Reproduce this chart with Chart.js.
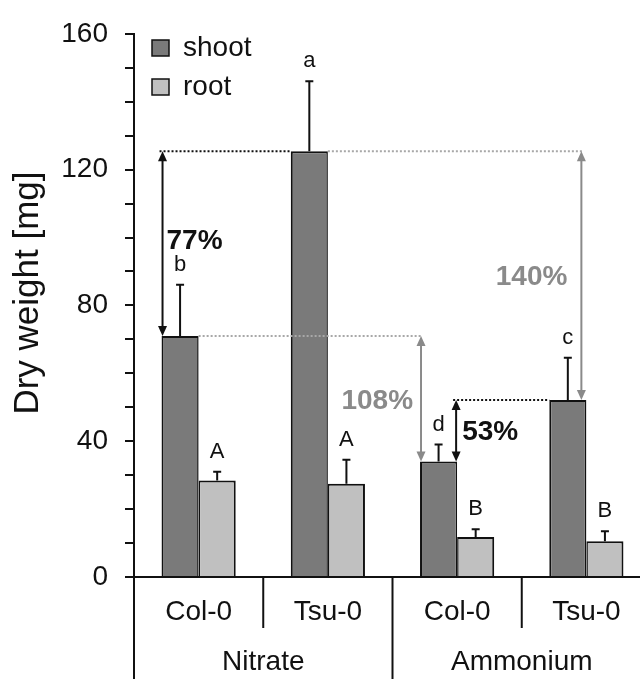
<!DOCTYPE html>
<html>
<head>
<meta charset="utf-8">
<script src="https://cdn.jsdelivr.net/npm/chart.js@4"></script>
<style>
html,body{margin:0;padding:0;background:#fff;overflow:hidden;}
#wrap{width:640px;height:679px;overflow:hidden;}
</style>
</head>
<body>
<div id="wrap"><canvas id="c" width="651" height="679"></canvas></div>
<script>
// ---- data ----
const categories = ['Col-0', 'Tsu-0', 'Col-0', 'Tsu-0'];
const groups = ['Nitrate', 'Ammonium'];
const shoot = [71.0, 125.4, 34.0, 52.1];
const shootErr = [15.1, 20.6, 5.0, 12.5];
const root = [28.4, 27.5, 11.8, 10.5];
const rootErr = [2.6, 7.0, 2.3, 3.0];
const shootLetters = ['b', 'a', 'd', 'c'];
const rootLetters = ['A', 'A', 'B', 'B'];
const yTicks = [0, 40, 80, 120, 160];
const seriesNames = ['shoot', 'root'];
const pctLabels = ['77%', '108%', '53%', '140%'];
const yTitle = 'Dry weight [mg]';

const FONT = '"Liberation Sans", Arial, Helvetica, sans-serif';
const SHOOT_COL = '#7a7a7a';
const ROOT_COL = '#c0c0c0';
const INK = '#111111';
const GRAY = '#8a8a8a';
const GRAY_DOT = '#a8a8a8';

function arrow(ctx, x, y1, y2, color) {
  const hl = 10, hw = 4.5;
  ctx.save();
  ctx.strokeStyle = color; ctx.fillStyle = color; ctx.lineWidth = 2; ctx.setLineDash([]);
  const top = Math.min(y1, y2), bot = Math.max(y1, y2);
  ctx.beginPath(); ctx.moveTo(x, top + hl - 1); ctx.lineTo(x, bot - hl + 1); ctx.stroke();
  ctx.beginPath(); ctx.moveTo(x, top); ctx.lineTo(x - hw, top + hl); ctx.lineTo(x + hw, top + hl); ctx.closePath(); ctx.fill();
  ctx.beginPath(); ctx.moveTo(x, bot); ctx.lineTo(x - hw, bot - hl); ctx.lineTo(x + hw, bot - hl); ctx.closePath(); ctx.fill();
  ctx.restore();
}
function dotted(ctx, x1, x2, y, color) {
  ctx.save();
  ctx.strokeStyle = color; ctx.lineWidth = 2; ctx.setLineDash([2, 2]);
  ctx.beginPath(); ctx.moveTo(x1, y); ctx.lineTo(x2, y); ctx.stroke();
  ctx.restore();
}
function vline(ctx, x, y1, y2) {
  ctx.save(); ctx.strokeStyle = INK; ctx.lineWidth = 2; ctx.setLineDash([]);
  ctx.beginPath(); ctx.moveTo(x, y1); ctx.lineTo(x, y2); ctx.stroke(); ctx.restore();
}

const extras = {
  id: 'extras',
  afterDatasetsDraw(chart) {
    const ctx = chart.ctx;
    const ys = chart.scales.y;
    const mS = chart.getDatasetMeta(0).data;
    const mR = chart.getDatasetMeta(1).data;
    const half = b => b.width / 2;

    // error bars + letters
    ctx.save();
    ctx.strokeStyle = INK; ctx.lineWidth = 2; ctx.fillStyle = INK;
    ctx.font = '22px ' + FONT; ctx.textAlign = 'center'; ctx.textBaseline = 'middle';
    [[mS, shoot, shootErr, shootLetters], [mR, root, rootErr, rootLetters]].forEach(([meta, vals, errs, lets]) => {
      meta.forEach((b, i) => {
        const yt = ys.getPixelForValue(vals[i] + errs[i]);
        const yb = ys.getPixelForValue(vals[i]);
        ctx.beginPath(); ctx.moveTo(b.x, yb); ctx.lineTo(b.x, yt);
        ctx.moveTo(b.x - 4, yt); ctx.lineTo(b.x + 4, yt); ctx.stroke();
        ctx.fillText(lets[i], b.x, yt - 20);
      });
    });
    ctx.restore();

    // annotations
    const yN1 = ys.getPixelForValue(shoot[1]);
    const yN0 = ys.getPixelForValue(shoot[0]);
    const yA0 = ys.getPixelForValue(shoot[2]);
    const yA1 = ys.getPixelForValue(shoot[3]);
    const b0 = mS[0], b1 = mS[1], b2 = mS[2], b3 = mS[3];

    // 77%
    dotted(ctx, b0.x - half(b0) - 2, b1.x - half(b1), yN1, INK);
    const xa = b0.x - half(b0) + 1;
    arrow(ctx, xa, yN1, yN0, INK);
    // 140%
    dotted(ctx, b1.x + half(b1), b3.x + half(b3) - 4, yN1, GRAY_DOT);
    const xd = b3.x + half(b3) - 5;
    arrow(ctx, xd, yN1, yA1, GRAY);
    // 108%
    dotted(ctx, b0.x + half(b0), b2.x - half(b2) + 2, yN0, GRAY_DOT);
    const xb = b2.x - half(b2) + 1;
    arrow(ctx, xb, yN0, yA0, GRAY);
    // 53%
    dotted(ctx, b2.x + half(b2) - 4, b3.x - half(b3), yA1, INK);
    const xc = b2.x + half(b2) - 1;
    arrow(ctx, xc, yA1, yA0, INK);

    ctx.save();
    ctx.font = 'bold 28px ' + FONT; ctx.textBaseline = 'middle';
    ctx.fillStyle = INK; ctx.textAlign = 'left';
    ctx.fillText(pctLabels[0], xa + 4, (yN1 + yN0) / 2 - 2);
    ctx.fillText(pctLabels[2], xc + 6, (yA1 + yA0) / 2 + 1);
    ctx.fillStyle = GRAY; ctx.textAlign = 'right';
    ctx.fillText(pctLabels[1], xb - 8, (yN0 + yA0) / 2 + 3);
    ctx.fillText(pctLabels[3], xd - 14, (yN1 + yA1) / 2 + 2);
    ctx.restore();
  },
  afterDraw(chart) {
    const ctx = chart.ctx;
    const xs = chart.scales.x;
    const ca = chart.chartArea;
    const H = chart.height;
    const p = i => xs.getPixelForValue(i);
    // group separators
    vline(ctx, ca.left, ca.bottom, H);
    vline(ctx, (p(0) + p(1)) / 2, ca.bottom, ca.bottom + 51);
    vline(ctx, (p(1) + p(2)) / 2, ca.bottom, H);
    vline(ctx, (p(2) + p(3)) / 2, ca.bottom, ca.bottom + 51);
    ctx.save();
    ctx.fillStyle = INK; ctx.font = '28px ' + FONT; ctx.textAlign = 'center'; ctx.textBaseline = 'middle';
    ctx.fillText(groups[0], (p(0) + p(1)) / 2, 662);
    ctx.fillText(groups[1], (p(2) + p(3)) / 2, 662);
    // legend
    const cols = [SHOOT_COL, ROOT_COL];
    seriesNames.forEach((n, i) => {
      const cy = 48 + i * 39;
      ctx.fillStyle = cols[i]; ctx.fillRect(152, cy - 8, 17, 16);
      ctx.strokeStyle = INK; ctx.lineWidth = 1.5; ctx.strokeRect(152, cy - 8, 17, 16);
      ctx.fillStyle = INK; ctx.textAlign = 'left';
      ctx.fillText(n, 183, cy);
    });
    // y title
    ctx.translate(28, 293); ctx.rotate(-Math.PI / 2);
    ctx.textAlign = 'center'; ctx.font = '35px ' + FONT;
    ctx.fillText(yTitle, 0, 0);
    ctx.restore();
  }
};

new Chart(document.getElementById('c'), {
  type: 'bar',
  data: {
    labels: categories,
    datasets: [
      { label: seriesNames[0], data: shoot, backgroundColor: SHOOT_COL, borderColor: INK,
        borderWidth: { top: 2, left: 2, right: 1.5, bottom: 0 }, borderSkipped: 'start',
        barPercentage: 1, categoryPercentage: 0.574 },
      { label: seriesNames[1], data: root, backgroundColor: ROOT_COL, borderColor: INK,
        borderWidth: { top: 2, left: 1.5, right: 2, bottom: 0 }, borderSkipped: 'start',
        barPercentage: 1, categoryPercentage: 0.574 }
    ]
  },
  options: {
    responsive: false,
    animation: false,
    devicePixelRatio: 1,
    layout: { padding: { top: 27, right: 0, bottom: 0, left: 0 } },
    plugins: { legend: { display: false }, tooltip: { enabled: false } },
    scales: {
      x: {
        grid: { display: false, drawTicks: false },
        border: { display: true, color: INK, width: 2 },
        ticks: { font: { size: 28, family: FONT }, color: INK, padding: 18, autoSkip: false, maxRotation: 0 },
        afterFit: s => { s.height = 102; }
      },
      y: {
        min: 0, max: 160,
        grid: { drawOnChartArea: false, drawTicks: true, tickLength: 9, color: INK, lineWidth: 2 },
        border: { display: true, color: INK, width: 2 },
        ticks: { stepSize: 10, autoSkip: false, font: { size: 28, family: FONT }, color: INK, padding: 17,
          callback: v => yTicks.includes(v) ? String(v) : '' },
        afterFit: s => { s.width = 134; }
      }
    }
  },
  plugins: [extras]
});
</script>
</body>
</html>
